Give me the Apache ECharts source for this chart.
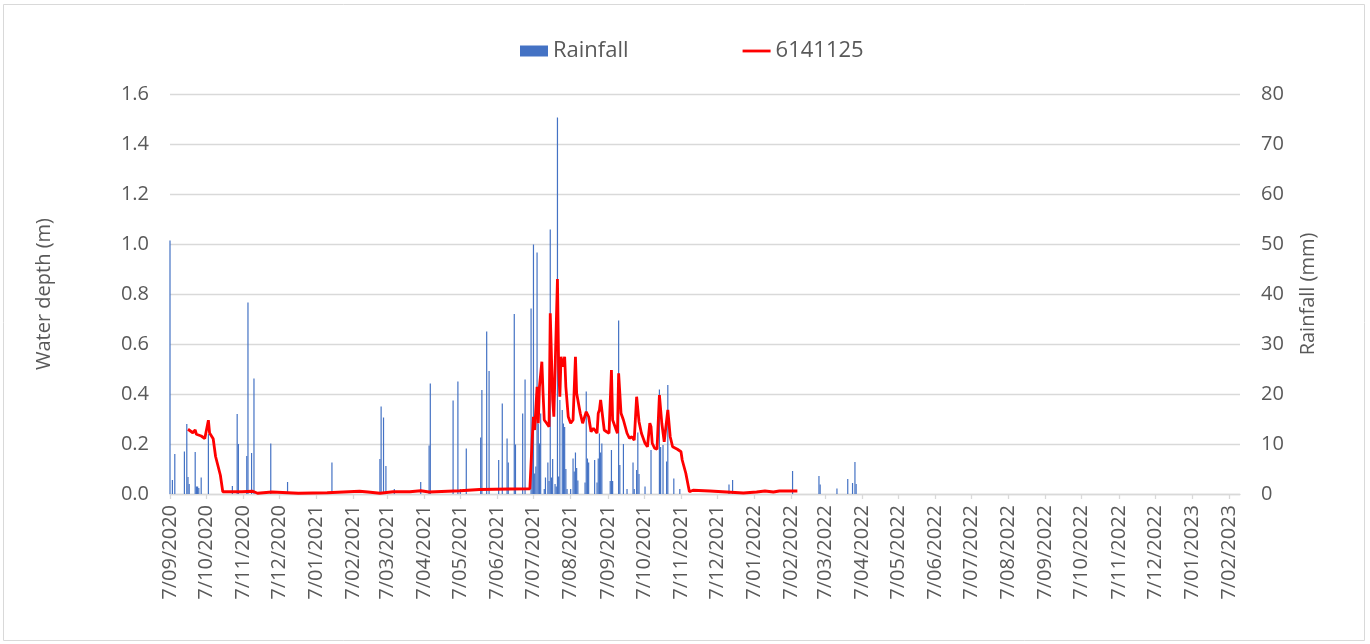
<!DOCTYPE html>
<html>
<head>
<meta charset="utf-8">
<title>Rainfall and water depth 6141125</title>
<script src="https://cdn.jsdelivr.net/npm/echarts@6/dist/echarts.min.js"></script>
<style>
  html, body { margin: 0; padding: 0; background: #fff; }
  #chart { width: 1370px; height: 644px; }
</style>
</head>
<body>
<div id="chart"></div>
<script>
// x-axis tick labels (Excel date axis, every month on the 7th)
const tickLabels = [
  '7/09/2020', '7/10/2020', '7/11/2020', '7/12/2020',
  '7/01/2021', '7/02/2021', '7/03/2021', '7/04/2021', '7/05/2021', '7/06/2021',
  '7/07/2021', '7/08/2021', '7/09/2021', '7/10/2021', '7/11/2021', '7/12/2021',
  '7/01/2022', '7/02/2022', '7/03/2022', '7/04/2022', '7/05/2022', '7/06/2022',
  '7/07/2022', '7/08/2022', '7/09/2022', '7/10/2022', '7/11/2022', '7/12/2022',
  '7/01/2023', '7/02/2023',
];

// daily rainfall (mm), only the days with rain
const rainfall = [
  ['2020-09-07', 50.7], ['2020-09-09', 2.8], ['2020-09-11', 8.0], ['2020-09-19', 8.5],
  ['2020-09-21', 14.0], ['2020-09-22', 3.4], ['2020-09-23', 2.0], ['2020-09-28', 8.4],
  ['2020-09-29', 1.5], ['2020-09-30', 1.5], ['2020-10-01', 1.2], ['2020-10-03', 3.3],
  ['2020-10-09', 12.0], ['2020-10-29', 1.6], ['2020-11-02', 16.0], ['2020-11-03', 10.0],
  ['2020-11-10', 7.6], ['2020-11-11', 38.3], ['2020-11-14', 8.2], ['2020-11-16', 23.1],
  ['2020-11-30', 10.1], ['2020-12-14', 2.4], ['2021-01-20', 6.3], ['2021-03-01', 7.0],
  ['2021-03-02', 17.5], ['2021-03-04', 15.3], ['2021-03-06', 5.6], ['2021-03-13', 1.0],
  ['2021-04-04', 2.4], ['2021-04-11', 9.7], ['2021-04-12', 22.1], ['2021-05-01', 18.7],
  ['2021-05-05', 22.5], ['2021-05-07', 1.0], ['2021-05-12', 9.1], ['2021-05-24', 11.3],
  ['2021-05-25', 20.8], ['2021-05-29', 32.5], ['2021-05-31', 24.6], ['2021-06-08', 6.8],
  ['2021-06-11', 18.1], ['2021-06-15', 11.1], ['2021-06-16', 6.3], ['2021-06-21', 36.0],
  ['2021-06-22', 9.9], ['2021-06-28', 16.1], ['2021-06-30', 22.9], ['2021-07-05', 37.1],
  ['2021-07-06', 9.1], ['2021-07-07', 49.9], ['2021-07-08', 4.1], ['2021-07-09', 5.5],
  ['2021-07-10', 48.3], ['2021-07-11', 14.1], ['2021-07-12', 10.1], ['2021-07-13', 16.1],
  ['2021-07-16', 1.0], ['2021-07-17', 3.3], ['2021-07-19', 6.3], ['2021-07-20', 2.6],
  ['2021-07-21', 52.9], ['2021-07-22', 3.3], ['2021-07-23', 7.0], ['2021-07-25', 2.0],
  ['2021-07-26', 1.5], ['2021-07-27', 75.3], ['2021-07-28', 3.5], ['2021-07-29', 18.8],
  ['2021-07-31', 16.8], ['2021-08-01', 14.1], ['2021-08-02', 13.4], ['2021-08-03', 5.0],
  ['2021-08-04', 1.0], ['2021-08-07', 1.0], ['2021-08-09', 7.1], ['2021-08-10', 4.5],
  ['2021-08-11', 8.3], ['2021-08-12', 5.2], ['2021-08-13', 2.7], ['2021-08-19', 2.3],
  ['2021-08-20', 20.5], ['2021-08-21', 7.1], ['2021-08-22', 6.3], ['2021-08-27', 6.8],
  ['2021-08-29', 2.3], ['2021-08-30', 7.1], ['2021-08-31', 12.1], ['2021-09-01', 8.3],
  ['2021-09-02', 10.1], ['2021-09-09', 2.6], ['2021-09-10', 8.8], ['2021-09-11', 2.6],
  ['2021-09-16', 34.7], ['2021-09-17', 5.8], ['2021-09-20', 10.0], ['2021-09-23', 1.0],
  ['2021-09-28', 6.3], ['2021-09-29', 1.0], ['2021-10-01', 4.8], ['2021-10-02', 12.3],
  ['2021-10-03', 4.0], ['2021-10-08', 1.5], ['2021-10-13', 8.8], ['2021-10-20', 20.9],
  ['2021-10-21', 9.4], ['2021-10-23', 9.8], ['2021-10-26', 6.5], ['2021-10-27', 21.8],
  ['2021-11-01', 3.1], ['2021-11-06', 1.0], ['2021-12-17', 1.9], ['2021-12-20', 2.8],
  ['2022-02-08', 4.6], ['2022-03-02', 3.6], ['2022-03-03', 1.9], ['2022-03-17', 1.1],
  ['2022-03-26', 3.0], ['2022-03-30', 2.2], ['2022-04-01', 6.4], ['2022-04-02', 2.0],
];

// water depth (m) at gauge 6141125
const waterDepth = [
  ['2020-09-22', 0.259], ['2020-09-26', 0.245], ['2020-09-28', 0.256], ['2020-09-29', 0.239],
  ['2020-10-03', 0.232], ['2020-10-06', 0.222], ['2020-10-09', 0.295], ['2020-10-10', 0.244],
  ['2020-10-13', 0.221], ['2020-10-15', 0.150], ['2020-10-19', 0.075], ['2020-10-21', 0.009],
  ['2020-11-06', 0.009], ['2020-11-15', 0.011], ['2020-11-19', 0.003], ['2020-12-01', 0.008],
  ['2020-12-23', 0.003], ['2021-01-16', 0.005], ['2021-02-12', 0.011], ['2021-02-19', 0.008],
  ['2021-03-01', 0.003], ['2021-03-12', 0.009], ['2021-03-26', 0.009], ['2021-04-04', 0.013],
  ['2021-04-11', 0.008], ['2021-05-07', 0.013], ['2021-05-23', 0.018], ['2021-06-17', 0.020],
  ['2021-07-04', 0.021], ['2021-07-06', 0.223], ['2021-07-07', 0.309], ['2021-07-08', 0.256],
  ['2021-07-10', 0.429], ['2021-07-11', 0.283], ['2021-07-12', 0.429], ['2021-07-14', 0.529],
  ['2021-07-15', 0.403], ['2021-07-16', 0.296], ['2021-07-18', 0.283], ['2021-07-20', 0.269],
  ['2021-07-21', 0.723], ['2021-07-23', 0.376], ['2021-07-24', 0.309], ['2021-07-27', 0.860],
  ['2021-07-28', 0.509], ['2021-07-29', 0.389], ['2021-07-30', 0.549], ['2021-07-31', 0.509],
  ['2021-08-02', 0.549], ['2021-08-03', 0.429], ['2021-08-05', 0.309], ['2021-08-07', 0.283],
  ['2021-08-09', 0.296], ['2021-08-11', 0.549], ['2021-08-12', 0.403], ['2021-08-15', 0.323],
  ['2021-08-17', 0.283], ['2021-08-20', 0.329], ['2021-08-22', 0.309], ['2021-08-24', 0.249],
  ['2021-08-26', 0.263], ['2021-08-29', 0.243], ['2021-08-30', 0.323], ['2021-08-31', 0.336],
  ['2021-09-01', 0.376], ['2021-09-03', 0.296], ['2021-09-04', 0.256], ['2021-09-06', 0.249],
  ['2021-09-08', 0.243], ['2021-09-10', 0.496], ['2021-09-11', 0.296], ['2021-09-14', 0.256],
  ['2021-09-15', 0.243], ['2021-09-16', 0.483], ['2021-09-18', 0.323], ['2021-09-20', 0.296],
  ['2021-09-23', 0.243], ['2021-09-25', 0.223], ['2021-09-27', 0.229], ['2021-09-29', 0.215],
  ['2021-10-01', 0.389], ['2021-10-03', 0.289], ['2021-10-05', 0.243], ['2021-10-08', 0.203],
  ['2021-10-10', 0.189], ['2021-10-12', 0.283], ['2021-10-13', 0.269], ['2021-10-14', 0.203],
  ['2021-10-16', 0.183], ['2021-10-18', 0.179], ['2021-10-20', 0.396], ['2021-10-22', 0.283],
  ['2021-10-24', 0.209], ['2021-10-25', 0.203], ['2021-10-27', 0.336], ['2021-10-29', 0.229],
  ['2021-10-31', 0.189], ['2021-11-04', 0.179], ['2021-11-07', 0.169], ['2021-11-08', 0.136],
  ['2021-11-11', 0.083], ['2021-11-14', 0.009], ['2021-11-17', 0.015], ['2021-12-01', 0.012],
  ['2021-12-15', 0.008], ['2021-12-29', 0.004], ['2022-01-09', 0.008], ['2022-01-16', 0.012],
  ['2022-01-23', 0.008], ['2022-01-28', 0.012], ['2022-02-12', 0.012],
];

const depthTicks = { min: 0, max: 1.6, interval: 0.2 };
const rainTicks = { min: 0, max: 80, interval: 10 };

const FONT = '"Open Sans", "Liberation Sans", sans-serif';
const GREY_TEXT = '#595959';
const GREY_LINE = '#d9d9d9';

function parseLabel(label) {
  const [d, m, y] = label.split('/');
  return Date.UTC(+y, +m - 1, +d);
}

function parseIso(s) {
  const [y, m, d] = s.split('-');
  return Date.UTC(+y, +m - 1, +d);
}

const tickValues = tickLabels.map(parseLabel);
const labelByTime = {};
tickLabels.forEach((label, i) => {
  labelByTime[tickValues[i]] = label;
});

const chart = echarts.init(document.getElementById('chart'));

chart.setOption({
  animation: false,
  textStyle: { fontFamily: FONT },
  graphic: [
    {
      type: 'rect',
      shape: { x: 3.5, y: 4.5, width: 1361, height: 636 },
      style: { fill: 'none', stroke: GREY_LINE, lineWidth: 1 },
      silent: true,
    },
  ],
  legend: {
    left: 515,
    top: 35,
    itemWidth: 28,
    itemHeight: 11,
    itemGap: 114,
    textStyle: { fontSize: 22, color: GREY_TEXT, fontFamily: FONT },
    data: [
      { name: 'Rainfall', icon: 'rect' },
      { name: '6141125', icon: 'path://M0,0h30v3h-30z' },
    ],
  },
  grid: {
    left: 170,
    right: 130,
    top: 94,
    bottom: 150,
  },
  xAxis: {
    type: 'value',
    min: parseLabel('7/09/2020'),
    max: Date.UTC(2023, 1, 16),
    axisLine: { show: true, onZero: false, lineStyle: { color: GREY_LINE, width: 1.3 } },
    axisTick: {
      show: true,
      length: 5,
      customValues: tickValues,
      lineStyle: { color: GREY_LINE, width: 1.3 },
    },
    splitLine: { show: false },
    axisLabel: {
      customValues: tickValues,
      rotate: 90,
      margin: 11,
      fontSize: 20,
      color: GREY_TEXT,
      fontFamily: FONT,
      formatter: (value) => labelByTime[value] || '',
    },
  },
  yAxis: [
    {
      type: 'value',
      ...depthTicks,
      name: 'Water depth (m)',
      nameLocation: 'middle',
      nameRotate: 90,
      nameGap: 116,
      nameTextStyle: { fontSize: 20, color: GREY_TEXT, fontFamily: FONT },
      axisLine: { show: false },
      axisTick: { show: false },
      splitLine: { lineStyle: { color: GREY_LINE, width: 1.3 } },
      axisLabel: {
        margin: 21,
        fontSize: 20,
        color: GREY_TEXT,
        fontFamily: FONT,
        formatter: (v) => v.toFixed(1),
      },
    },
    {
      type: 'value',
      ...rainTicks,
      position: 'right',
      name: 'Rainfall (mm)',
      nameLocation: 'middle',
      nameRotate: 90,
      nameGap: 58,
      nameTextStyle: { fontSize: 20, color: GREY_TEXT, fontFamily: FONT },
      axisLine: { show: false },
      axisTick: { show: false },
      splitLine: { show: false },
      axisLabel: {
        margin: 21,
        fontSize: 20,
        color: GREY_TEXT,
        fontFamily: FONT,
      },
    },
  ],
  series: [
    {
      name: 'Rainfall',
      type: 'bar',
      yAxisIndex: 1,
      barWidth: 1.2,
      itemStyle: { color: '#4472C4' },
      data: rainfall.map(([d, v]) => [parseIso(d), v]),
    },
    {
      name: '6141125',
      type: 'line',
      yAxisIndex: 0,
      symbol: 'none',
      lineStyle: { color: '#ff0000', width: 2.8 },
      itemStyle: { color: '#ff0000' },
      data: waterDepth.map(([d, v]) => [parseIso(d), v]),
    },
  ],
});
</script>
</body>
</html>
